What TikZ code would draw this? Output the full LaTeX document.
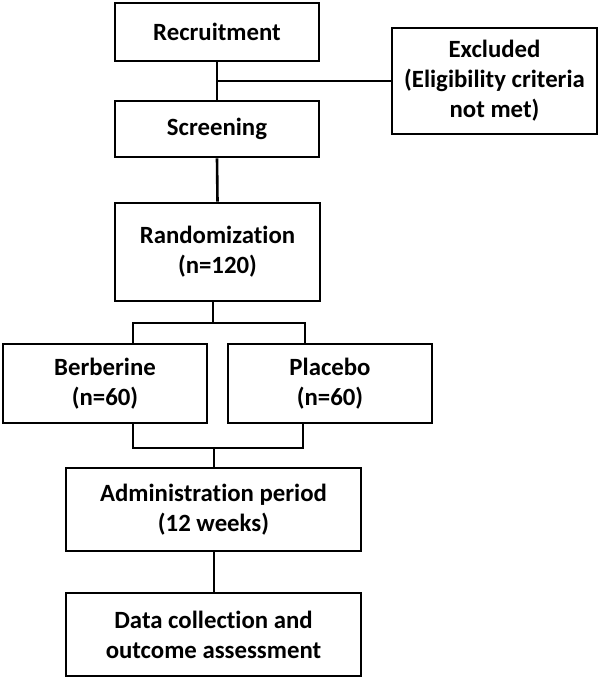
\documentclass[tikz,border=0pt]{standalone}
\usepackage{fontspec}
\setmainfont{Carlito}[Ligatures={NoCommon}]
\begin{document}
\begin{tikzpicture}[x=1pt,y=-1pt,
  box/.style={draw=black,line width=2.6pt,align=center,inner sep=0pt,
    font=\bfseries\fontsize{24.8}{30}\selectfont,text=black},
  conn/.style={draw=black,line width=2.6pt}]
\useasboundingbox (0,0) rectangle (600,679);
\node[box,minimum width=204pt,minimum height=58pt] (rec) at (217,32) {Recruitment};
\node[box,minimum width=205pt,minimum height=106pt] (exc) at (494.5,81) {Excluded\\(Eligibility criteria\\not met)};
\node[box,minimum width=204pt,minimum height=56pt] (scr) at (217,129) {Screening};
\node[box,minimum width=205pt,minimum height=98pt] (rand) at (217.5,252) {Randomization\\(n=120)};
\node[box,minimum width=204pt,minimum height=79pt] (ber) at (105,383.5) {Berberine\\(n=60)};
\node[box,minimum width=204pt,minimum height=79pt] (pla) at (330,383.5) {Placebo\\(n=60)};
\node[box,minimum width=295pt,minimum height=83pt] (adm) at (213.5,509.5) {Administration period\\(12 weeks)};
\node[box,minimum width=295pt,minimum height=83pt] (dat) at (213.5,634.5) {Data collection and\\outcome assessment};
\coordinate (j1) at (217,81);
\coordinate (s1) at (213,323);
\coordinate (sl) at (133,323);
\coordinate (sr) at (305,323);
\coordinate (m1) at (133,448);
\coordinate (m2) at (303,448);
\coordinate (m3) at (214,448);
\draw[conn] (rec.south) -- (scr.north);
\draw[conn] (j1) -- (exc.west);
\draw[conn] (scr.south) -- (rand.north);
\draw[conn] (rand.south -| s1) -- (s1);
\draw[conn] (ber.north -| sl) -- (sl) -- (sr) -- (pla.north -| sr);
\draw[conn] (ber.south -| m1) -- (m1) -- (m2) -- (pla.south -| m2);
\draw[conn] (m3) -- (adm.north -| m3);
\draw[conn] (adm.south -| m3) -- (dat.north -| m3);
\end{tikzpicture}
\end{document}
